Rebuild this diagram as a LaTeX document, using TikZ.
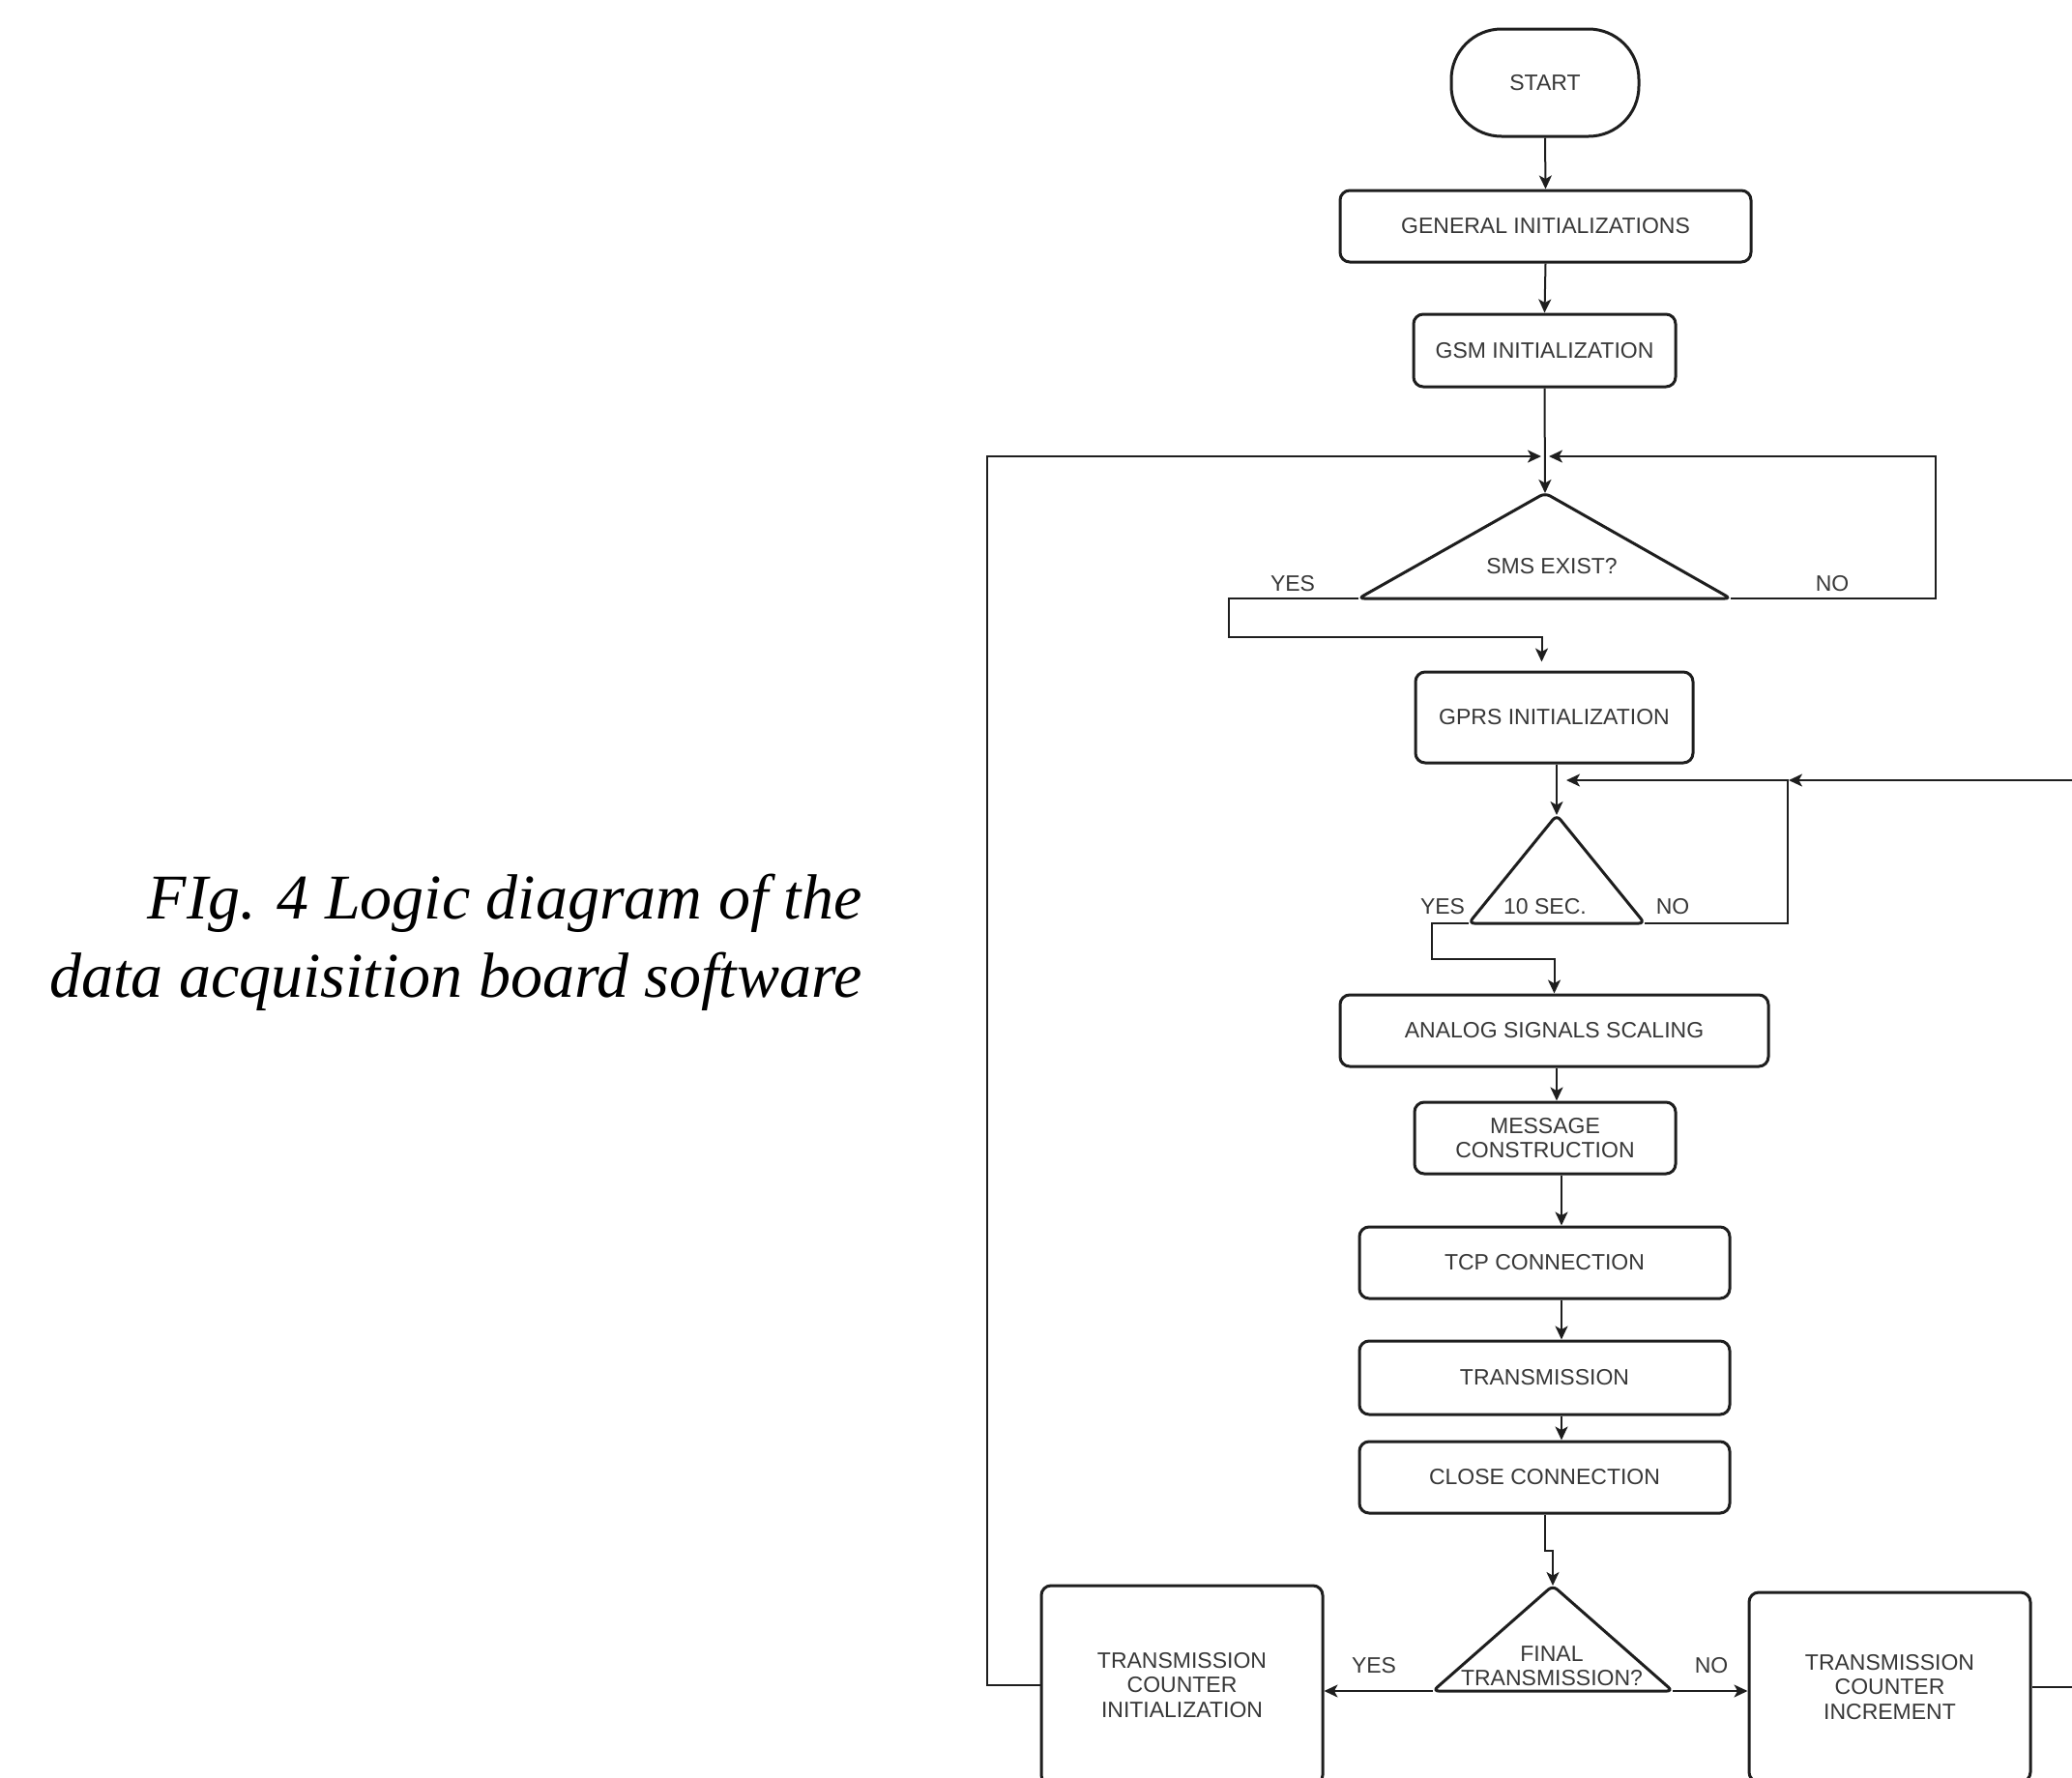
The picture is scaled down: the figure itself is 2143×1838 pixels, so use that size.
\documentclass[tikz,border=0pt]{standalone}
\usepackage{fontspec}
\newfontfamily\boxfont{Liberation Sans}
\newfontfamily\capfont{Liberation Serif}
\definecolor{ink}{RGB}{30,30,30}
\definecolor{txtgray}{RGB}{55,55,55}
\usetikzlibrary{arrows.meta, calc}
\newcommand{\boxsize}{\boxfont\fontsize{11.5}{12.8}\selectfont}

\tikzset{
  box/.style={draw=ink, line width=1.5pt, rounded corners=5pt, fill=white,
    text=txtgray, font=\boxsize, align=center, inner sep=0pt},
  decision/.style={draw=ink, line width=1.5pt, rounded corners=3pt},
  lbl/.style={text=txtgray, font=\boxsize, align=center, inner sep=0pt},
  conn/.style={draw=ink, line width=1pt, -{Stealth[length=7pt, width=6.5pt, inset=1.8pt]}},
  capt/.style={font=\capfont\itshape\fontsize{33}{40}\selectfont, inner sep=0pt},
}

\begin{document}
\begin{tikzpicture}[x=0.5pt, y=-0.5pt]
    \clip (0,0) rectangle (2143,1838);
    % Caption
    \node[capt, anchor=base east] (cap1) at (892,950) {FIg. 4 Logic diagram of the};
    \node[capt, anchor=base east] (cap2) at (892,1031) {data acquisition board software};
    % Start and initializations
    \node[box, rounded corners=26pt, minimum width=97pt, minimum height=55.5pt] (start) at (1598,85.5) {START};
    \node[box, minimum width=212.5pt, minimum height=37pt] (gen) at (1598.5,234) {GENERAL INITIALIZATIONS};
    \node[box, minimum width=135.5pt, minimum height=37.5pt] (gsm) at (1597.5,362.5) {GSM INITIALIZATION};
    \coordinate (smsIn) at (1598,472);
    % SMS test
    \draw[decision] (1598,510) coordinate (smsA) -- (1790,619) coordinate (smsR) -- (1405,619) coordinate (smsL) -- cycle;
    \node[lbl] (sms) at (1605,586) {SMS EXIST?};
    \node[lbl] (smsY) at (1337,604) {YES};
    \node[lbl] (smsN) at (1895,604) {NO};
    \node[box, minimum width=143.5pt, minimum height=47pt] (gprs) at (1607.5,742) {GPRS INITIALIZATION};
    \coordinate (secIn) at (1610,807);
    % 10 s wait
    \draw[decision] (1610,843) coordinate (secA) -- (1701,955) coordinate (secR) -- (1519,955) coordinate (secL) -- cycle;
    \node[lbl] (sec) at (1598,938) {10 SEC.};
    \node[lbl] (secY) at (1492,938) {YES};
    \node[lbl] (secN) at (1730,938) {NO};
    % Message chain
    \node[box, minimum width=221.5pt, minimum height=37pt] (analog) at (1607.5,1066) {ANALOG SIGNALS SCALING};
    \node[box, minimum width=135pt, minimum height=37pt] (msg) at (1598,1177) {MESSAGE\\CONSTRUCTION};
    \node[box, minimum width=191.5pt, minimum height=37pt] (tcp) at (1597.5,1306) {TCP CONNECTION};
    \node[box, minimum width=191.5pt, minimum height=38pt] (trans) at (1597.5,1425) {TRANSMISSION};
    \node[box, minimum width=191.5pt, minimum height=37pt] (close) at (1597.5,1528) {CLOSE CONNECTION};
    \coordinate (spine) at (1615,1200);
    % Final test and counters
    \draw[decision] (1606,1640) coordinate (finA) -- (1730,1749) coordinate (finR) -- (1482,1749) coordinate (finL) -- cycle;
    \node[lbl] (fin) at (1605,1723) {FINAL\\TRANSMISSION?};
    \node[lbl] (finY) at (1421,1723) {YES};
    \node[lbl] (finN) at (1770,1723) {NO};
    \node[box, minimum width=145.5pt, minimum height=103pt] (tci) at (1222.5,1743) {TRANSMISSION\\COUNTER\\INITIALIZATION};
    \node[box, minimum width=145.5pt, minimum height=98pt] (tcinc) at (1954.5,1745) {TRANSMISSION\\COUNTER\\INCREMENT};
    % Connectors
    \draw[conn] (start.south) -- (gen.north);
    \draw[conn] (gen.south) -- (gsm.north);
    \draw[conn] (gsm.south) -- (smsA);
    \draw[conn] (tci.west) -- (1021,1743) |- ([xshift=-2pt]smsIn);
    \draw[conn] (smsR) -- (2002,619) |- ([xshift=2pt]smsIn);
    \draw[conn] (smsL) -- (1271,619) -- (1271,659) -| ([xshift=-6.5pt, yshift=4.5pt]gprs.north);
    \draw[conn] (gprs.south -| secA) -- (secA);
    \draw[conn] (secR) -- (1849,955) |- ([xshift=5pt]secIn);
    \draw[conn] (tcinc.east) -- (2190,1745) |- ([xshift=120pt]secIn);
    \draw[conn] (secL) -- (1481,955) -- (1481,992) -| (analog.north);
    \draw[conn] (analog.south -| secA) -- (msg.north -| secA);
    \draw[conn] (msg.south -| spine) -- (tcp.north -| spine);
    \draw[conn] (tcp.south -| spine) -- (trans.north -| spine);
    \draw[conn] (trans.south -| spine) -- (close.north -| spine);
    \draw[conn] (close.south) -- ++(0,37) -| (finA);
    \draw[conn] (finL) -- (tci.east |- finL);
    \draw[conn] (finR) -- (tcinc.west |- finR);
\end{tikzpicture}
\end{document}
